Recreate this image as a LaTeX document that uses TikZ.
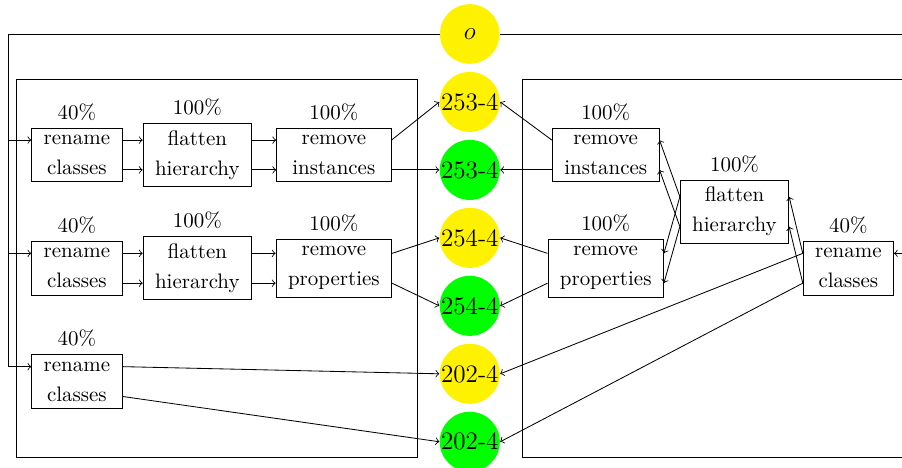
\documentclass[tikz,border=0pt]{standalone}
\usetikzlibrary{positioning}

\tikzset{
  stage/.style={draw, align=center, inner xsep=5.7pt, font=\linespread{1.19}\selectfont, label distance=-1.2pt},
  sink/.style={circle, minimum size=1cm, inner sep=0pt, font=\large},
}

\begin{document}
\begin{tikzpicture}
\useasboundingbox (0,0) rectangle (15.13,7.85);
\clip (0,0) rectangle (15.13,7.85);

% the two blocks
\draw (0.27,0.185) rectangle (7.0,6.52);
\draw (8.77,0.185) rectangle (15.48,6.52);

% outputs in the middle
\node[sink, fill=yellow] (o) at (7.88,7.28) {$o$};
\foreach \n/\y/\c/\t in {y253/6.14/yellow/253-4, g253/5.0/green/253-4,
                         y254/3.86/yellow/254-4, g254/2.72/green/254-4,
                         y202/1.58/yellow/202-4, g202/0.44/green/202-4}
  \node[sink, fill=\c] (\n) at (7.88,\y) {\t};

% left block
\node[stage, label=above:{40\%}] (rc1) at (1.29,5.25) {rename\\classes};
\node[stage, label=above:{100\%}] (fh1) at (3.31,5.25) {flatten\\hierarchy};
\node[stage, label=above:{100\%}, minimum width=1.92cm] (ri1) at (5.6,5.25) {remove\\instances};

\node[stage, label=above:{40\%}] (rc2) at (1.29,3.35) {rename\\classes};
\node[stage, label=above:{100\%}] (fh2) at (3.31,3.35) {flatten\\hierarchy};
\node[stage, label=above:{100\%}] (rp2) at (5.6,3.35) {remove\\properties};

\node[stage, label=above:{40\%}] (rc3) at (1.29,1.45) {rename\\classes};

% right block
\node[stage, label=above:{100\%}] (riR) at (10.16,5.25) {remove\\instances};
\node[stage, label=above:{100\%}] (rpR) at (10.16,3.35) {remove\\properties};
\node[stage, label=above:{100\%}] (fhR) at (12.32,4.3) {flatten\\hierarchy};
\node[stage, label=above:{40\%}] (rcR) at (14.23,3.35) {rename\\classes};

% feed from o
\coordinate (lc) at (0.134,7.28);
\coordinate (rc) at (15.62,7.28);
\foreach \b in {rc1,rc2,rc3}
  \draw[->] (o.west) -- (lc) |- ([yshift=.25cm]\b.west);
\draw[->] (o.east) -- (rc) |- ([yshift=.25cm]rcR.east);

% left connections
\foreach \a/\b in {rc1/fh1, fh1/ri1, rc2/fh2, fh2/rp2} {
  \draw[->] ([yshift=.25cm]\a.east) -- ([yshift=.25cm]\b.west);
  \draw[->] ([yshift=-.25cm]\a.east) -- ([yshift=-.25cm]\b.west);
}
\foreach \a/\b/\c in {ri1/y253/g253, rp2/y254/g254, rc3/y202/g202} {
  \draw[->] ([yshift=.25cm]\a.east) -- (\b.west);
  \draw[->] ([yshift=-.25cm]\a.east) -- (\c.west);
}

% right connections
\foreach \a/\b in {rcR/fhR, fhR/riR, fhR/rpR} {
  \draw[->] ([yshift=.25cm]\a.west) -- ([yshift=.25cm]\b.east);
  \draw[->] ([yshift=-.25cm]\a.west) -- ([yshift=-.25cm]\b.east);
}
\foreach \a/\b/\c in {riR/y253/g253, rpR/y254/g254, rcR/y202/g202} {
  \draw[->] ([yshift=.25cm]\a.west) -- (\b.east);
  \draw[->] ([yshift=-.25cm]\a.west) -- (\c.east);
}

\end{tikzpicture}
\end{document}
